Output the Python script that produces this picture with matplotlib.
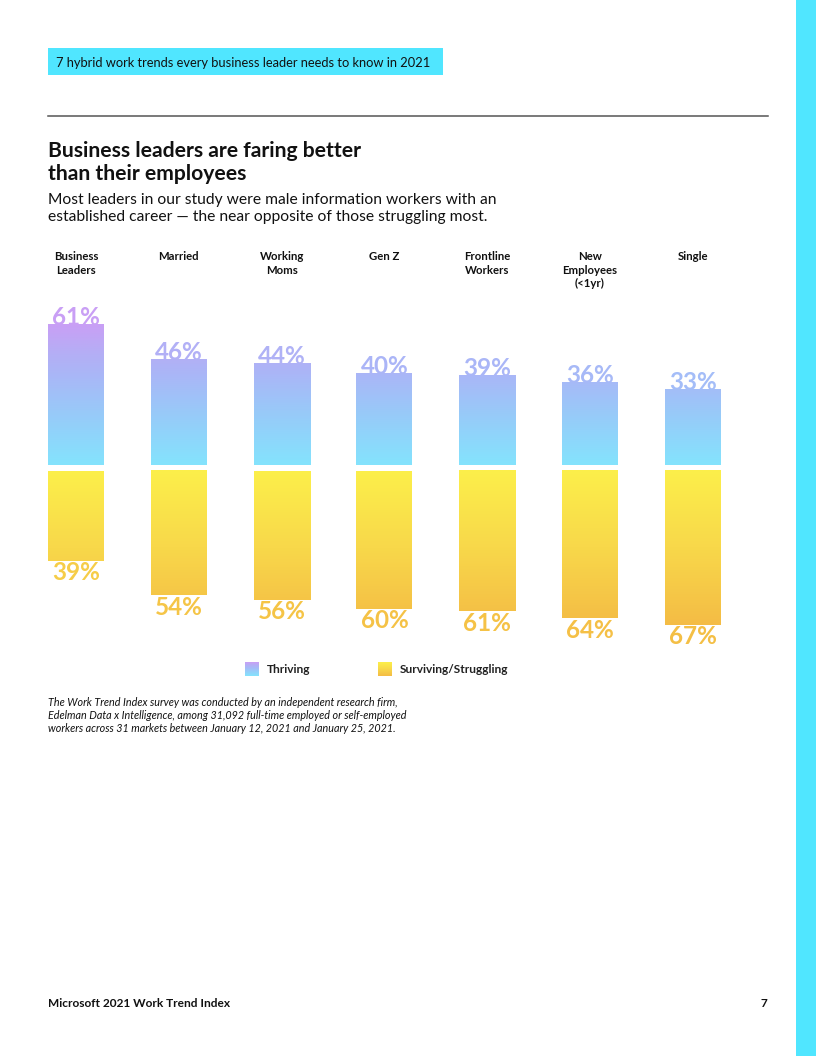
import matplotlib
matplotlib.use("Agg")
import matplotlib.pyplot as plt
import numpy as np
from matplotlib.colors import LinearSegmentedColormap, Normalize
from matplotlib.transforms import blended_transform_factory
from matplotlib.patches import Rectangle

plt.rcParams['font.family'] = ['Lato', 'DejaVu Sans']

# ---------------- data ----------------
categories = ["Business\nLeaders", "Married", "Working\nMoms", "Gen Z",
              "Frontline\nWorkers", "New\nEmployees\n(<1yr)", "Single"]
thriving = [61, 46, 44, 40, 39, 36, 33]
surviving = [39, 54, 56, 60, 61, 64, 67]
legend_labels = ["Thriving", "Surviving/Struggling"]

header = "7 hybrid work trends every business leader needs to know in 2021"
title_lines = ["Business leaders are faring better", "than their employees"]
subtitle_lines = ["Most leaders in our study were male information workers with an",
                  "established career \u2014 the near opposite of those struggling most."]
footnote_lines = ["The Work Trend Index survey was conducted by an independent research firm,",
                  "Edelman Data x Intelligence, among 31,092 full-time employed or self-employed",
                  "workers across 31 markets between January 12, 2021 and January 25, 2021."]
footer_left = "Microsoft 2021 Work Trend Index"
footer_right = "7"

# ---------------- style ----------------
W, H = 816, 1056
CYAN = "#50e6ff"
thr_cmap = LinearSegmentedColormap.from_list(
    "thr", [(0.0, "#84e3fd"), (0.35, "#97cbf9"), (0.65, "#aab6f7"),
            (0.8, "#b5aef5"), (1.0, "#c99ff5")])
sur_cmap = LinearSegmentedColormap.from_list(
    "sur", [(0.0, "#fcef4b"), (0.5, "#f8d84a"), (1.0, "#f4bc45")])

fig = plt.figure(figsize=(W / 100, H / 100), dpi=100)
fig.patch.set_facecolor("white")

def fx(px):
    return px / W

def fy(py):
    return 1 - py / H

# right cyan stripe
fig.patches.append(Rectangle((fx(796), 0), fx(20), 1, transform=fig.transFigure,
                             facecolor=CYAN, edgecolor="none", zorder=0))
# header box
fig.patches.append(Rectangle((fx(48), fy(75)), fx(395), 27 / H, transform=fig.transFigure,
                             facecolor=CYAN, edgecolor="none", zorder=0))
fig.text(fx(56), fy(67), header, fontsize=9.25, color="#111111", va="baseline", ha="left")
# rule
fig.add_artist(plt.Line2D([fx(48), fx(768)], [fy(116), fy(116)], color="#555555",
                          lw=1.1, transform=fig.transFigure))
# title / subtitle
for yb, line in zip([157, 180], title_lines):
    fig.text(fx(48), fy(yb), line, fontsize=15.2, fontweight="bold", color="#111111",
             va="baseline", ha="left")
for yb, line in zip([204, 221], subtitle_lines):
    fig.text(fx(48), fy(yb), line, fontsize=11.25, color="#111111",
             va="baseline", ha="left")

# ---------------- chart ----------------
PX_PER = 2.3
ZERO = 468
ax = fig.add_axes([fx(40), fy(650), 700 / W, 360 / H])
ax.set_xlim((40 - 76) / 102.8, (740 - 76) / 102.8)
ax.set_ylim(-(650 - ZERO) / PX_PER, (ZERO - 290) / PX_PER)
ax.axis("off")

gap = 1.3
bw = 56 / 102.8
tmax = max(thriving)
smax = max(surviving)

for i, (t, s) in enumerate(zip(thriving, surviving)):
    grad = np.linspace(t, 0, 200).reshape(-1, 1)
    ax.imshow(grad, extent=[i - bw / 2, i + bw / 2, gap, gap + t], aspect="auto",
              cmap=thr_cmap, norm=Normalize(0, tmax), interpolation="bilinear", zorder=2)
    grad2 = np.linspace(0, s, 200).reshape(-1, 1)
    ax.imshow(grad2, extent=[i - bw / 2, i + bw / 2, -gap - s, -gap], aspect="auto",
              cmap=sur_cmap, norm=Normalize(0, smax), interpolation="bilinear", zorder=2)
    ax.text(i, gap + t - 0.3, f"{t}%", ha="center", va="baseline", fontsize=17.5,
            fontweight="bold", color=thr_cmap(min(1.0, t / tmax * 0.97 + 0.03)), zorder=3)
    ax.text(i, -gap - s - 8.4, f"{s}%", ha="center", va="baseline", fontsize=17.5,
            fontweight="bold", color=sur_cmap(min(1.0, 0.35 + s / smax * 0.6)), zorder=3)

trans = blended_transform_factory(ax.transData, fig.transFigure)
for i, c in enumerate(categories):
    for k, line in enumerate(c.split("\n")):
        ax.text(i, fy(260 + 13.7 * k), line, transform=trans, ha="center", va="baseline",
                fontsize=8.2, fontweight="bold", color="#111111")

# legend swatches
lax1 = fig.add_axes([fx(245), fy(676), 14 / W, 14 / H])
lax1.imshow(np.linspace(1, 0, 50).reshape(-1, 1), cmap=thr_cmap, aspect="auto",
            extent=[0, 1, 0, 1])
lax1.axis("off")
lax2 = fig.add_axes([fx(378), fy(676), 14 / W, 14 / H])
lax2.imshow(np.linspace(0, 1, 50).reshape(-1, 1), cmap=sur_cmap, aspect="auto",
            extent=[0, 1, 0, 1])
lax2.axis("off")
fig.text(fx(267), fy(673), legend_labels[0], fontsize=8.6, fontweight="bold",
         color="#222222", va="baseline", ha="left")
fig.text(fx(400), fy(673), legend_labels[1], fontsize=8.6, fontweight="bold",
         color="#222222", va="baseline", ha="left")

# footnote
for k, line in enumerate(footnote_lines):
    fig.text(fx(48), fy(705.5 + 13.4 * k), line, fontsize=7.75, fontstyle="italic",
             color="#111111", va="baseline", ha="left")

# footer
fig.text(fx(48), fy(1007), footer_left, fontsize=8.6, fontweight="bold",
         color="#111111", va="baseline", ha="left")
fig.text(fx(767), fy(1007), footer_right, fontsize=8.6, fontweight="bold",
         color="#111111", va="baseline", ha="right")

fig.savefig("out.png", dpi=100)
